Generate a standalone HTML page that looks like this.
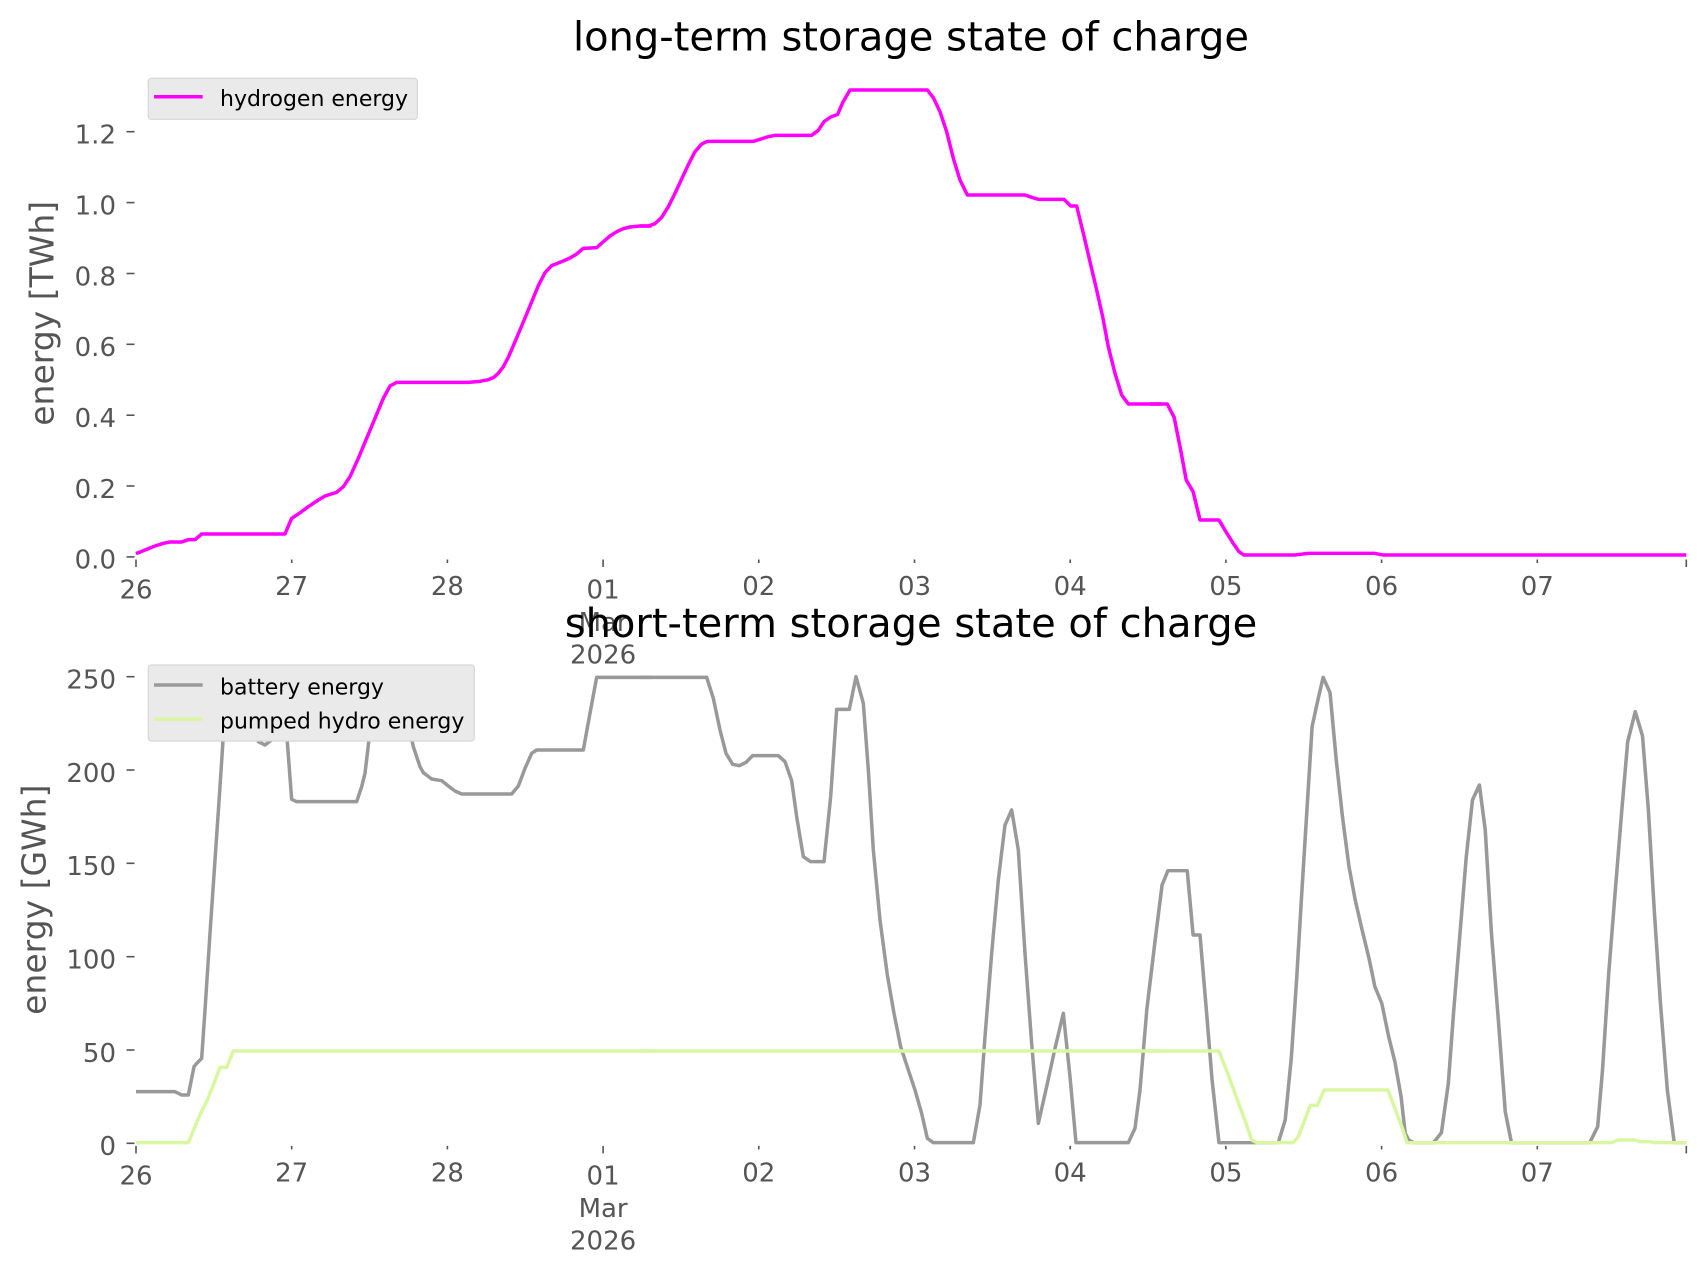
<!DOCTYPE html>
<html>
<head>
<meta charset="utf-8">
<style>
html,body{margin:0;padding:0;background:#fff;}
svg{display:block;}
text{font-family:"DejaVu Sans","Liberation Sans",sans-serif;}
.tk{font-size:26px;fill:#555555;}
.yl{font-size:33px;fill:#555555;}
.ttl{font-size:40px;fill:#000;}
.lg{font-size:22px;fill:#000;}
.tm{stroke:#555555;stroke-width:1.6;}
.ln{fill:none;stroke-linejoin:round;stroke-linecap:butt;}
</style>
</head>
<body>
<svg width="1706" height="1277" viewBox="0 0 1706 1277" xmlns="http://www.w3.org/2000/svg">
<rect width="1706" height="1277" fill="#ffffff"/>

<!-- ================= TOP CHART ================= -->
<text class="ttl" x="911" y="50.5" text-anchor="middle">long-term storage state of charge</text>

<g class="tm">
<line x1="126.5" y1="556.9" x2="134.5" y2="556.9"/>
<line x1="126.5" y1="486.0" x2="134.5" y2="486.0"/>
<line x1="126.5" y1="415.2" x2="134.5" y2="415.2"/>
<line x1="126.5" y1="344.3" x2="134.5" y2="344.3"/>
<line x1="126.5" y1="273.5" x2="134.5" y2="273.5"/>
<line x1="126.5" y1="202.6" x2="134.5" y2="202.6"/>
<line x1="126.5" y1="131.7" x2="134.5" y2="131.7"/>
</g>
<g class="tk" text-anchor="end">
<text x="116" y="568.7">0.0</text>
<text x="116" y="497.8">0.2</text>
<text x="116" y="427.0">0.4</text>
<text x="116" y="356.1">0.6</text>
<text x="116" y="285.3">0.8</text>
<text x="116" y="214.4">1.0</text>
<text x="116" y="143.5">1.2</text>
</g>
<text class="yl" transform="translate(53.5,313.3) rotate(-90)" text-anchor="middle">energy [TWh]</text>

<g class="tm">
<line x1="136.0" y1="559.5" x2="136.0" y2="567"/>
<line x1="291.7" y1="559.5" x2="291.7" y2="563"/>
<line x1="447.4" y1="559.5" x2="447.4" y2="563"/>
<line x1="603.1" y1="559.5" x2="603.1" y2="567"/>
<line x1="758.8" y1="559.5" x2="758.8" y2="563"/>
<line x1="914.5" y1="559.5" x2="914.5" y2="563"/>
<line x1="1070.2" y1="559.5" x2="1070.2" y2="563"/>
<line x1="1225.9" y1="559.5" x2="1225.9" y2="563"/>
<line x1="1381.6" y1="559.5" x2="1381.6" y2="563"/>
<line x1="1537.3" y1="559.5" x2="1537.3" y2="563"/>
<line x1="1686.3" y1="559.5" x2="1686.3" y2="567"/>
</g>
<g class="tk" text-anchor="middle">
<text x="136.0" y="598.3">26</text>
<text x="291.7" y="595">27</text>
<text x="447.4" y="595">28</text>
<text x="603.1" y="598.3">01</text>
<text x="603.1" y="630.8">Mar</text>
<text x="603.1" y="663.3">2026</text>
<text x="758.8" y="595">02</text>
<text x="914.5" y="595">03</text>
<text x="1070.2" y="595">04</text>
<text x="1225.9" y="595">05</text>
<text x="1381.6" y="595">06</text>
<text x="1537.3" y="595">07</text>
</g>

<g class="ln" stroke="#ff00ff">
<polyline stroke-width="10.5" transform="translate(130,80) scale(0.33333)" points="18,1421 50,1408 75,1398 100,1390 120,1386 155,1386 175,1379 195,1379 215,1362 465,1362 485,1315 505,1302 535,1280 565,1260 585,1248 620,1237 640,1220 660,1190 685,1135 710,1075 735,1015 760,955 780,918 800,907 1015,907 1050,904 1075,899 1090,893 1105,880 1120,860 1135,832 1150,797 1175,738 1200,678 1225,617 1245,578 1265,557 1295,545 1320,534 1340,522 1360,505 1400,503 1420,485 1440,468 1460,455 1480,446 1500,441 1530,438 1565,438"/>
<polyline stroke-width="10.5" transform="translate(640,80) scale(0.33333)" points="0,438 25,438 45,431 65,412 85,380 105,340 125,297 145,254 165,215 185,192 203,184 340,184 360,178 385,170 405,166 515,166 535,151 552,125 572,111 593,103 608,68 630,30 862,30 880,53 900,95 920,155 940,235 960,300 982,345 1155,345 1175,352 1195,358 1272,358 1292,378 1310,378 1330,460 1350,545 1370,630 1388,710 1405,800 1425,880 1445,945 1465,972 1565,972"/>
<polyline stroke-width="10.3" transform="translate(1150,80) scale(0.3449,0.33333)" points="0,972 50,972 70,1012 88,1105 105,1200 125,1235 145,1320 200,1320 220,1355 240,1388 258,1415 272,1425 420,1425 460,1420 650,1420 675,1425 1555,1425"/>
</g>

<rect x="148.3" y="78.3" width="269" height="41" rx="3" ry="3" fill="#eaeaea" stroke="#d6d6d6" stroke-width="1.2"/>
<line x1="154" y1="96.7" x2="202.7" y2="96.7" stroke="#ff00ff" stroke-width="3.5"/>
<text class="lg" x="220" y="106">hydrogen energy</text>

<!-- ================= BOTTOM CHART ================= -->
<g class="tm">
<line x1="126.5" y1="1143.3" x2="134.5" y2="1143.3"/>
<line x1="126.5" y1="1050.0" x2="134.5" y2="1050.0"/>
<line x1="126.5" y1="956.7" x2="134.5" y2="956.7"/>
<line x1="126.5" y1="863.3" x2="134.5" y2="863.3"/>
<line x1="126.5" y1="770.0" x2="134.5" y2="770.0"/>
<line x1="126.5" y1="676.7" x2="134.5" y2="676.7"/>
</g>
<g class="tk" text-anchor="end">
<text x="116" y="1155.1">0</text>
<text x="116" y="1061.8">50</text>
<text x="116" y="968.5">100</text>
<text x="116" y="875.1">150</text>
<text x="116" y="781.8">200</text>
<text x="116" y="688.5">250</text>
</g>
<text class="yl" transform="translate(45.5,899.7) rotate(-90)" text-anchor="middle">energy [GWh]</text>

<g class="tm">
<line x1="136.0" y1="1145.9" x2="136.0" y2="1153.4"/>
<line x1="291.7" y1="1145.9" x2="291.7" y2="1149.4"/>
<line x1="447.4" y1="1145.9" x2="447.4" y2="1149.4"/>
<line x1="603.1" y1="1145.9" x2="603.1" y2="1153.4"/>
<line x1="758.8" y1="1145.9" x2="758.8" y2="1149.4"/>
<line x1="914.5" y1="1145.9" x2="914.5" y2="1149.4"/>
<line x1="1070.2" y1="1145.9" x2="1070.2" y2="1149.4"/>
<line x1="1225.9" y1="1145.9" x2="1225.9" y2="1149.4"/>
<line x1="1381.6" y1="1145.9" x2="1381.6" y2="1149.4"/>
<line x1="1537.3" y1="1145.9" x2="1537.3" y2="1149.4"/>
<line x1="1686.3" y1="1145.9" x2="1686.3" y2="1153.4"/>
</g>
<g class="tk" text-anchor="middle">
<text x="136.0" y="1184.7">26</text>
<text x="291.7" y="1181.4">27</text>
<text x="447.4" y="1181.4">28</text>
<text x="603.1" y="1184.7">01</text>
<text x="603.1" y="1217.2">Mar</text>
<text x="603.1" y="1249.7">2026</text>
<text x="758.8" y="1181.4">02</text>
<text x="914.5" y="1181.4">03</text>
<text x="1070.2" y="1181.4">04</text>
<text x="1225.9" y="1181.4">05</text>
<text x="1381.6" y="1181.4">06</text>
<text x="1537.3" y="1181.4">07</text>
</g>

<g class="ln" stroke="#999999">
<polyline stroke-width="10.5" transform="translate(130,660) scale(0.33333)" points="18,1295 135,1295 155,1305 175,1305 192,1220 200,1210 215,1195 225,1050 240,820 255,600 270,380 285,150 300,70 315,50 335,60 350,120 365,180 385,245 405,255 425,240 445,210 465,150 470,220 485,418 500,425 680,425 695,380 705,340 718,230 730,150 745,80 760,50 795,50 815,100 832,180 850,260 870,320 880,338 905,357 935,362 955,378 975,393 995,402 1145,402 1165,378 1185,325 1205,280 1220,270 1360,270 1380,160 1400,52 1565,52"/>
<polyline stroke-width="10.5" transform="translate(640,660) scale(0.33333)" points="0,52 200,52 220,115 240,210 258,280 278,313 298,317 318,307 338,287 415,287 435,305 455,362 470,470 490,590 512,605 552,605 572,410 590,148 628,148 648,50 670,130 685,330 700,570 720,780 742,945 762,1060 782,1160 805,1230 825,1290 845,1360 862,1435 880,1448 1000,1448 1020,1335 1035,1130 1055,880 1075,660 1095,495 1115,450 1135,570 1155,880 1175,1150 1195,1390 1220,1280 1245,1165 1270,1060 1290,1250 1308,1448 1465,1448 1485,1405 1500,1290 1520,1055"/>
<polyline stroke-width="10.3" transform="translate(1150,660) scale(0.3449,0.33333)" points="-10,1055 15,840 35,675 52,632 108,632 125,825 145,825 165,1070 180,1260 200,1448 372,1448 392,1380 410,1190 425,960 440,700 455,450 470,200 485,128 502,52 522,98 540,300 558,470 577,620 595,720 615,810 635,895 652,980 672,1030 692,1130 710,1205 728,1310 740,1420 750,1440 765,1448 822,1448 845,1418 865,1270 880,1060 898,830 917,590 935,420 955,375 972,510 990,820 1010,1080 1030,1355 1048,1448 1275,1448 1298,1400 1312,1230 1330,940 1350,680 1368,450 1385,245 1407,155 1428,228 1445,450 1462,750 1480,1030 1500,1290 1520,1448 1555,1448"/>
</g>

<g class="ln" stroke="#d9f7a0">
<polyline stroke-width="10.5" transform="translate(130,660) scale(0.33333)" points="18,1448 175,1448 195,1400 212,1360 232,1320 250,1275 270,1222 290,1222 310,1173 1565,1173"/>
<polyline stroke-width="10.5" transform="translate(640,660) scale(0.33333)" points="0,1173 1565,1173"/>
<polyline stroke-width="10.3" transform="translate(1150,660) scale(0.3449,0.33333)" points="-10,1173 200,1173 225,1240 250,1310 275,1380 295,1440 310,1448 415,1448 430,1430 445,1390 465,1336 485,1336 505,1290 690,1290 710,1345 730,1400 745,1448 1340,1448 1355,1440 1405,1440 1420,1445 1450,1445 1465,1448 1555,1448"/>
</g>

<rect x="148.3" y="665" width="326" height="76" rx="3" ry="3" fill="#eaeaea" stroke="#d6d6d6" stroke-width="1.2"/>
<line x1="154" y1="685" x2="202.7" y2="685" stroke="#999999" stroke-width="3.5"/>
<text class="lg" x="220" y="694.3">battery energy</text>
<line x1="154" y1="719.3" x2="202.7" y2="719.3" stroke="#d9f7a0" stroke-width="3.5"/>
<text class="lg" x="220" y="728.6">pumped hydro energy</text>

<text class="ttl" x="911" y="636.9" text-anchor="middle">short-term storage state of charge</text>
</svg>
</body>
</html>
